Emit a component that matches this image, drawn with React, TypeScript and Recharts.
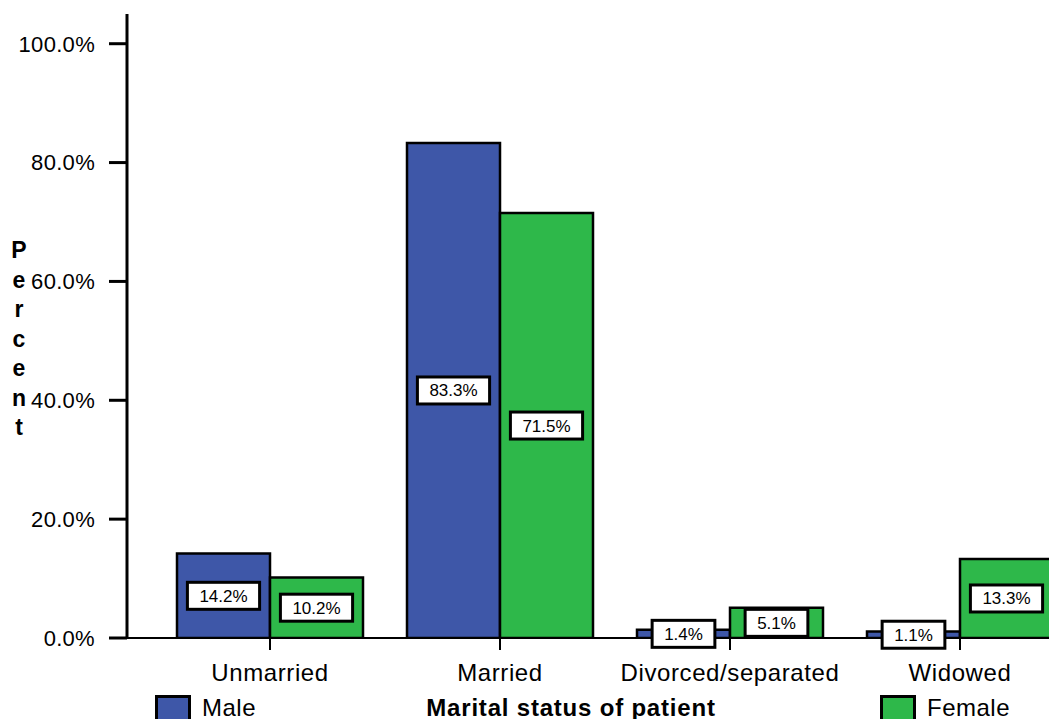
import React from 'react';
import { BarChart, Bar, XAxis, YAxis, LabelList, Legend } from 'recharts';

const categories = ['Unmarried', 'Married', 'Divorced/separated', 'Widowed'];
const maleValues = [14.2, 83.3, 1.4, 1.1];
const femaleValues = [10.2, 71.5, 5.1, 13.3];
const yTicks = [0, 20, 40, 60, 80, 100];
const seriesNames = ['Male', 'Female'];
const yTitle = 'Percent';
const xTitle = 'Marital status of patient';

const data = categories.map((c, i) => ({ name: c, male: maleValues[i], female: femaleValues[i] }));

const FONT = '"Liberation Sans", Arial, Helvetica, sans-serif';
const BLUE = '#3E57A8';
const GREEN = '#2EB84A';

const charW = (s: string) => {
  let w = 0;
  for (const ch of s) {
    if (ch === '.') w += 0.278;
    else if (ch === '%') w += 0.889;
    else w += 0.556;
  }
  return w;
};

const fmt = (v: number) => v.toFixed(1) + '%';

const BoxLabel = (props: any) => {
  const { x, y, width, height, value } = props;
  const txt = fmt(Number(value));
  const fs = 17;
  const bw = charW(txt) * fs + 24;
  const bh = 27;
  const cx = Number(x) + Number(width) / 2;
  const cy = Number(y) + Number(height) / 2;
  return (
    <g>
      <rect x={cx - bw / 2} y={cy - bh / 2} width={bw} height={bh} fill="#fff" stroke="#000" strokeWidth={3} />
      <text x={cx} y={cy + 6} textAnchor="middle" fontSize={fs} fontFamily={FONT} fill="#000">
        {txt}
      </text>
    </g>
  );
};

const YTitle = (props: any) => {
  const letters = yTitle.split('');
  return (
    <text fontFamily={FONT} fontWeight="bold" fontSize={23} fill="#000" textAnchor="middle">
      {letters.map((l, i) => (
        <tspan key={i} x={19} y={258 + i * 29.5}>
          {l}
        </tspan>
      ))}
    </text>
  );
};

const XTitle = (props: any) => {
  const vb = props.viewBox || {};
  const cx = (vb.x ?? 127) + (vb.width ?? 948) / 2 - 30;
  return (
    <text x={cx} y={716} textAnchor="middle" fontFamily={FONT} fontWeight="bold" fontSize={24} letterSpacing={0.8} fill="#000">
      {xTitle}
    </text>
  );
};

const legendLeft: Record<string, number> = { Male: 155, Female: 880 };

const LegendContent = (props: any) => {
  const payload = props.payload || [];
  return (
    <div style={{ position: 'relative', width: '100%', height: '100%' }}>
      {payload.map((p: any, i: number) => (
        <div key={i} style={{ position: 'absolute', left: legendLeft[p.value] ?? 155 + i * 725, top: 695, display: 'flex', alignItems: 'flex-start' }}>
          <div style={{ width: 30, height: 26, background: p.color, border: '3px solid #000' }} />
          <span style={{ marginLeft: 11, fontFamily: FONT, fontSize: 24, lineHeight: '26px', color: '#000', letterSpacing: 0.5 }}>{p.value}</span>
        </div>
      ))}
    </div>
  );
};

export default function App() {
  return (
    <div style={{ position: 'absolute', left: 0, top: 0, width: 1049, height: 719, overflow: 'hidden', background: '#fff' }}>
      <BarChart
        width={1080}
        height={719}
        data={data}
        margin={{ top: 14, right: 5, bottom: 0, left: 0 }}
        barCategoryGap={22}
        barGap={0}
      >
        <XAxis
          dataKey="name"
          height={81}
          padding={{ left: 28, right: 0 }}
          axisLine={{ stroke: '#000', strokeWidth: 2 }}
          tickLine={{ stroke: '#000', strokeWidth: 2 }}
          tickSize={12}
          tickMargin={14}
          tick={{ fontSize: 24, fontFamily: FONT, fill: '#000', letterSpacing: 0.6 } as any}
          interval={0}
          label={{ content: XTitle } as any}
        />
        <YAxis
          width={127}
          domain={[0, 105]}
          ticks={yTicks}
          allowDataOverflow
          tickFormatter={fmt}
          axisLine={{ stroke: '#000', strokeWidth: 3 }}
          tickLine={{ stroke: '#000', strokeWidth: 3 }}
          tickSize={18}
          tickMargin={14}
          tick={{ fontSize: 22, fontFamily: FONT, fill: '#000', letterSpacing: 0.3 } as any}
          label={{ content: YTitle } as any}
        />
        <Legend
          layout="horizontal"
          verticalAlign="middle"
          align="center"
          wrapperStyle={{ left: 0, top: 0, width: 1080, height: 719 }}
          content={LegendContent}
        />
        <Bar dataKey="male" name={seriesNames[0]} fill={BLUE} stroke="#000" strokeWidth={2.5} isAnimationActive={false}>
          <LabelList dataKey="male" content={BoxLabel} />
        </Bar>
        <Bar dataKey="female" name={seriesNames[1]} fill={GREEN} stroke="#000" strokeWidth={2.5} isAnimationActive={false}>
          <LabelList dataKey="female" content={BoxLabel} />
        </Bar>
      </BarChart>
    </div>
  );
}
